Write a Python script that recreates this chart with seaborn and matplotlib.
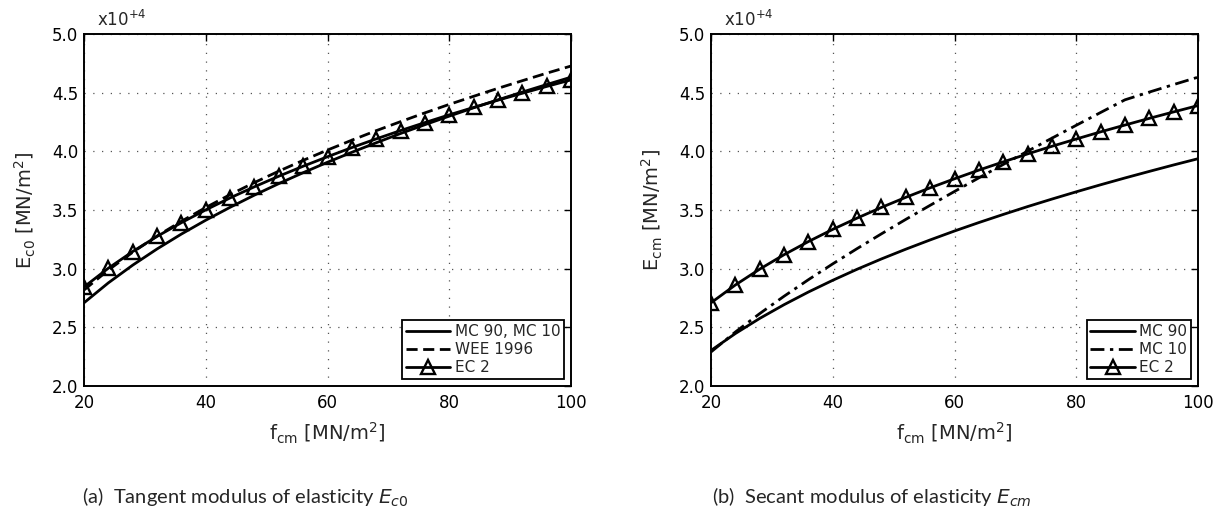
import numpy as np
import pandas as pd
import matplotlib
matplotlib.use("Agg")
import matplotlib.pyplot as plt
import seaborn as sns
from matplotlib.ticker import FuncFormatter, MultipleLocator

# ---------------- data (MN/m^2) ----------------
fcm = [20, 24, 28, 32, 36, 40, 44, 48, 52, 56, 60, 64, 68, 72, 76, 80, 84, 88, 92, 96, 100]

# (a) tangent modulus Ec0
ec0_mc90_mc10 = [27090, 28790, 30300, 31680, 32950, 34130, 35230, 36270, 37250, 38180, 39070,
                 39920, 40730, 41520, 42270, 43000, 43710, 44390, 45050, 45690, 46320]
ec0_wee1996 = [28180, 29880, 31400, 32780, 34040, 35210, 36310, 37340, 38310, 39230, 40110,
               40950, 41760, 42530, 43280, 44000, 44690, 45370, 46020, 46660, 47270]
ec0_ec2 = [28440, 30040, 31460, 32750, 33920, 35010, 36030, 36980, 37880, 38730, 39540,
           40320, 41060, 41770, 42450, 43110, 43740, 44360, 44950, 45530, 46090]

# (b) secant modulus Ecm
ecm_mc90 = [23030, 24470, 25760, 26930, 28010, 29010, 29950, 30830, 31660, 32450, 33210,
            33930, 34620, 35290, 35930, 36550, 37150, 37730, 38290, 38840, 39370]
ecm_mc10 = [22900, 24600, 26170, 27650, 29060, 30410, 31710, 32970, 34200, 35400, 36580,
            37740, 38880, 40010, 41120, 42220, 43310, 44390, 45050, 45690, 46320]
ecm_ec2 = [27090, 28610, 29960, 31190, 32310, 33350, 34310, 35220, 36080, 36890, 37660,
           38400, 39100, 39780, 40430, 41050, 41660, 42240, 42810, 43360, 43900]

legend_a = ["MC 90, MC 10", "WEE 1996", "EC 2"]
legend_b = ["MC 90", "MC 10", "EC 2"]
ylabel_a = r"E$_{\mathrm{c0}}$ [MN/m$^2$]"
ylabel_b = r"E$_{\mathrm{cm}}$ [MN/m$^2$]"
xlabel = r"f$_{\mathrm{cm}}$ [MN/m$^2$]"
caption_a = r"(a)  Tangent modulus of elasticity $E_{c0}$"
caption_b = r"(b)  Secant modulus of elasticity $E_{cm}$"

# ---------------- style ----------------
sns.set_theme(style="white")
plt.rcParams["font.family"] = ["DejaVu Sans"]
plt.rcParams["mathtext.fontset"] = "dejavusans"

fig = plt.figure(figsize=(12.21, 5.15), dpi=100)
ax_a = fig.add_axes([84 / 1221, 1 - 386 / 515, 487 / 1221, 352 / 515])
ax_b = fig.add_axes([711 / 1221, 1 - 386 / 515, 487 / 1221, 352 / 515])

LW = 2.0


def draw(ax, df, styles, labels, ylabel):
    for col, (ls, marker), lab in zip(df.columns[1:], styles, labels):
        sns.lineplot(data=df, x="fcm", y=col, ax=ax, color="black", linestyle=ls,
                     linewidth=LW, marker=marker, markersize=10 if marker else 0,
                     markerfacecolor="none", markeredgecolor="black",
                     markeredgewidth=1.7, label=lab, legend=False)
    ax.set_xlim(20, 100)
    ax.set_ylim(20000, 50000)
    ax.xaxis.set_major_locator(MultipleLocator(20))
    ax.yaxis.set_major_locator(MultipleLocator(5000))
    ax.yaxis.set_major_formatter(FuncFormatter(lambda v, p: f"{v / 1e4:.1f}"))
    ax.grid(True, color="#555555", linestyle=(0, (1, 6)), linewidth=0.9)
    ax.tick_params(direction="in", length=5, width=1, top=True, right=True,
                   labelsize=12, colors="black")
    ax.tick_params(axis="x", pad=6)
    ax.tick_params(axis="y", pad=4)
    for s in ax.spines.values():
        s.set_color("black")
        s.set_linewidth(1.4)
    ax.set_xlabel(xlabel, fontsize=14, labelpad=6)
    ax.set_ylabel(ylabel, fontsize=14, labelpad=10)
    ax.text(0.027, 1.012, r"x10$^{+4}$", transform=ax.transAxes, fontsize=12,
            ha="left", va="bottom")
    leg = ax.legend(loc="lower right", fontsize=11, frameon=True, fancybox=False,
                    edgecolor="black", framealpha=1, handlelength=2.9,
                    handletextpad=0.3, borderpad=0.25, labelspacing=0.2,
                    borderaxespad=0.45)
    leg.get_frame().set_linewidth(1.3)


df_a = pd.DataFrame({"fcm": fcm, "a1": ec0_mc90_mc10, "a2": ec0_wee1996, "a3": ec0_ec2})
df_b = pd.DataFrame({"fcm": fcm, "b1": ecm_mc90, "b2": ecm_mc10, "b3": ecm_ec2})

draw(ax_a, df_a, [("-", None), ((0, (4, 2)), None), ("-", "^")], legend_a, ylabel_a)
draw(ax_b, df_b, [("-", None), ((0, (5, 2, 1.2, 2)), None), ("-", "^")], legend_b, ylabel_b)

fig.text(82 / 1221, 1 - 497 / 515, caption_a, fontsize=14.5, ha="left", va="center",
         family="Lato")
fig.text(712 / 1221, 1 - 497 / 515, caption_b, fontsize=14.5, ha="left", va="center",
         family="Lato")

fig.savefig("out.png", dpi=100)
